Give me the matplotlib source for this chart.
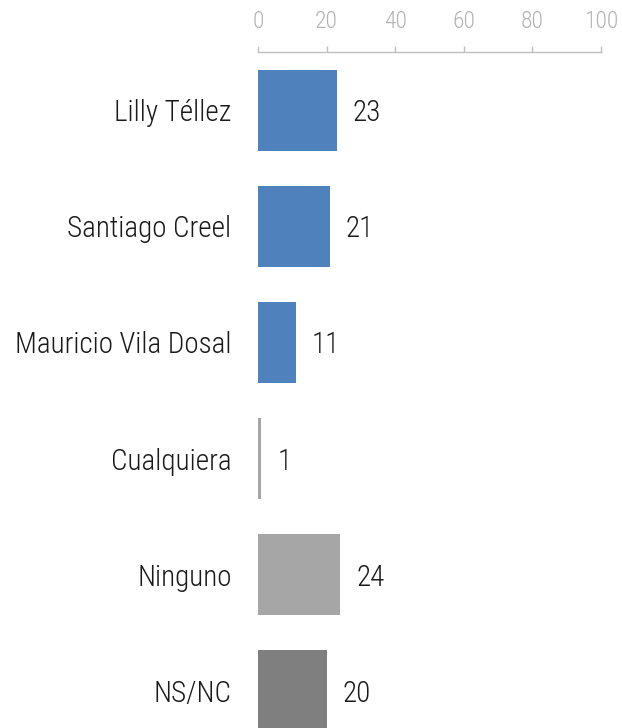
import matplotlib
matplotlib.use('Agg')
import matplotlib.pyplot as plt

# ── Data ──────────────────────────────────────────────────
categories = ['Lilly Téllez', 'Santiago Creel', 'Mauricio Vila Dosal',
              'Cualquiera', 'Ninguno', 'NS/NC']
values     = [23, 21, 11, 1, 24, 20]
colors     = ['#4F81BD', '#4F81BD', '#4F81BD', '#A6A6A6', '#A6A6A6', '#7F7F7F']
x_ticks    = [0, 20, 40, 60, 80, 100]

plt.rcParams['font.family'] = ['Roboto Condensed', 'Liberation Sans Narrow', 'Roboto', 'DejaVu Sans']
plt.rcParams['font.weight'] = 'light'

W, H, DPI = 622, 728, 100
fig = plt.figure(figsize=(W / DPI, H / DPI), dpi=DPI)

# axes: spine at y=52px, x from 258 to 601px, rows 116px apart
left, right = 258, 601
top_px, bottom_px = 52, 749
ax = fig.add_axes([left / W, 1 - bottom_px / H, (right - left) / W, (bottom_px - top_px) / H])

pos = list(range(len(categories)))
ax.barh(pos, values, height=0.70, color=colors)

ax.set_xlim(0, 100)
ax.set_ylim(len(categories) - 0.496, -0.504)

for p, v in zip(pos, values):
    ax.text(v + 4.6, p, str(v), va='center_baseline', ha='left', fontsize=21,
            color='#1a1a1a', fontweight='light')

# x axis on top
ax.xaxis.tick_top()
ax.set_xticks(x_ticks)
ax.tick_params(axis='x', colors='#BFBFBF', length=4.5, width=1, pad=9,
               labelsize=17, labelcolor='#B3B3B3')

ax.set_yticks(pos)
ax.set_yticklabels(categories, fontsize=21, color='#1a1a1a', fontweight='light')
ax.tick_params(axis='y', length=0, pad=19)

for s in ['right', 'bottom', 'left']:
    ax.spines[s].set_visible(False)
ax.spines['top'].set_color('#BFBFBF')
ax.spines['top'].set_linewidth(1)

fig.savefig('out.png', dpi=DPI)
